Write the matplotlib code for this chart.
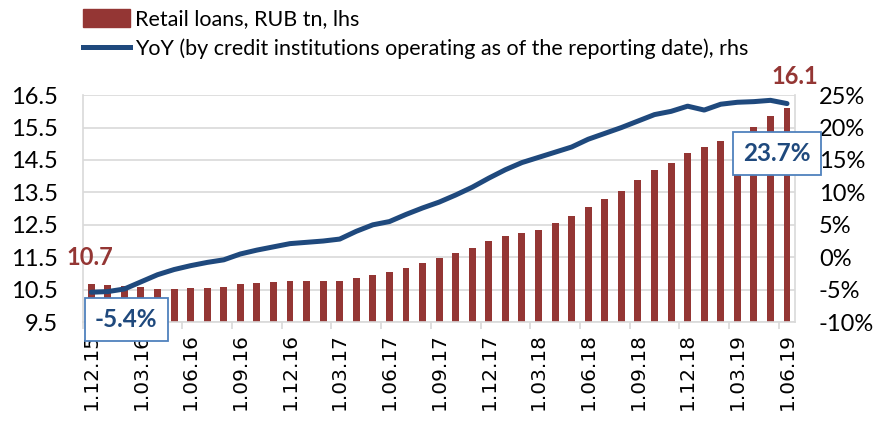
import matplotlib
matplotlib.use("Agg")
import matplotlib.pyplot as plt
import numpy as np
from matplotlib.patches import Patch
from matplotlib.lines import Line2D

plt.rcParams['font.family'] = ['Lato', 'DejaVu Sans']

# monthly, 1.12.15 .. 1.06.19
dates = ['1.12.15', '1.01.16', '1.02.16', '1.03.16', '1.04.16', '1.05.16', '1.06.16',
         '1.07.16', '1.08.16', '1.09.16', '1.10.16', '1.11.16', '1.12.16',
         '1.01.17', '1.02.17', '1.03.17', '1.04.17', '1.05.17', '1.06.17',
         '1.07.17', '1.08.17', '1.09.17', '1.10.17', '1.11.17', '1.12.17',
         '1.01.18', '1.02.18', '1.03.18', '1.04.18', '1.05.18', '1.06.18',
         '1.07.18', '1.08.18', '1.09.18', '1.10.18', '1.11.18', '1.12.18',
         '1.01.19', '1.02.19', '1.03.19', '1.04.19', '1.05.19', '1.06.19']

loans = [10.68, 10.65, 10.60, 10.58, 10.53, 10.53, 10.55, 10.55, 10.59, 10.67,
         10.72, 10.74, 10.77, 10.78, 10.76, 10.77, 10.85, 10.95, 11.03, 11.16,
         11.31, 11.49, 11.64, 11.77, 11.99, 12.16, 12.25, 12.35, 12.55, 12.78,
         13.05, 13.29, 13.55, 13.89, 14.18, 14.41, 14.73, 14.89, 15.08, 15.25,
         15.52, 15.85, 16.10]

yoy = [-5.4, -5.3, -4.9, -3.8, -2.7, -1.9, -1.3, -0.8, -0.4, 0.5,
       1.1, 1.6, 2.1, 2.3, 2.5, 2.8, 4.0, 5.0, 5.5, 6.6,
       7.6, 8.5, 9.6, 10.8, 12.2, 13.5, 14.6, 15.4, 16.2, 17.0,
       18.2, 19.1, 20.0, 21.0, 22.0, 22.5, 23.3, 22.7, 23.6, 23.9,
       24.0, 24.2, 23.7]

red = '#943634'
navy = '#1F497D'
grid = '#D9D9D9'

fig = plt.figure(figsize=(8.73, 4.21), dpi=100)
ax = fig.add_axes([0.095, 0.235, 0.816, 0.539])
x = np.arange(len(dates))

ax.bar(x, np.array(loans) - 9.5, bottom=9.5, width=0.42, color=red, zorder=2)
ax.set_ylim(9.5, 16.5)
ax.set_yticks(np.arange(9.5, 16.6, 1.0))
ax.set_yticklabels([f'{v:.1f}' for v in np.arange(9.5, 16.6, 1.0)])
ax.set_xlim(-0.5, len(dates) - 0.5)
ax.grid(axis='y', color=grid, lw=1.2, zorder=0)

ax.set_xticks(x[::3])
ax.set_xticklabels(dates[::3], rotation=90, family='DejaVu Sans', fontsize=14.5)
ax.set_xticks(np.arange(-0.5, len(dates), 3), minor=True)
ax.tick_params(axis='x', which='major', length=0, pad=8)
ax.tick_params(axis='x', which='minor', length=5, color=grid, width=1.2)
ax.tick_params(axis='y', length=0, labelsize=17, pad=18)
for s in ['left', 'right', 'bottom']:
    ax.spines[s].set_color(grid)
    ax.spines[s].set_linewidth(1.2)
ax.spines['top'].set_visible(False)

ax2 = ax.twinx()
ax2.plot(x, yoy, color=navy, lw=3.6, solid_capstyle='round', zorder=3)
ax2.set_ylim(-10, 25)
ax2.set_yticks(np.arange(-10, 26, 5))
ax2.set_yticklabels([f'{v}%' for v in range(-10, 26, 5)])
ax2.tick_params(axis='y', length=0, labelsize=17, pad=17)
for s in ax2.spines.values():
    s.set_visible(False)

# data labels
ax.annotate(f'{loans[0]:.1f}', (x[0], loans[0]), xytext=(-1, 26), textcoords='offset pixels',
            ha='center', va='center', color=red, fontsize=17, fontweight='bold')
ax.annotate(f'{loans[-1]:.1f}', (x[-1], loans[-1]), xytext=(8, 32), textcoords='offset pixels',
            ha='center', va='center', color=red, fontsize=17, fontweight='bold')
box = dict(boxstyle='square,pad=0.42', fc='white', ec='#4F81BD', lw=1.3)
ax2.annotate(f'{yoy[0]:.1f}%', (x[0], yoy[0]), xytext=(35, -27), textcoords='offset pixels',
             ha='center', va='center', color=navy, fontsize=17.5, fontweight='bold', bbox=box, zorder=5)
ax2.annotate(f'{yoy[-1]:.1f}%', (x[-1], yoy[-1]), xytext=(-10, -50), textcoords='offset pixels',
             ha='center', va='center', color=navy, fontsize=17.5, fontweight='bold', bbox=box, zorder=5)

handles = [Patch(color=red), Line2D([], [], color=navy, lw=3.6)]
labels = ['Retail loans, RUB tn, lhs',
          'YoY (by credit institutions operating as of the reporting date), rhs']
fig.legend(handles, labels, loc='upper left', bbox_to_anchor=(0.073, 1.025), frameon=False,
           fontsize=15.5, handlelength=2.2, handleheight=0.9, handletextpad=0.2, labelspacing=0.45)

fig.savefig('out.png', dpi=100)
